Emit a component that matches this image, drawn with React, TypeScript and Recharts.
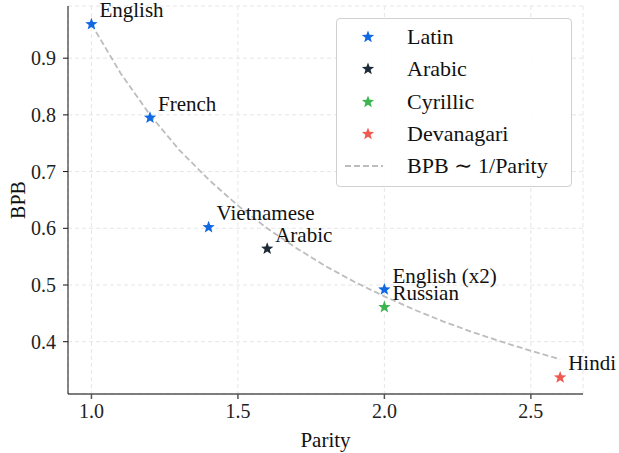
import React from 'react';
import { ScatterChart, Scatter, XAxis, YAxis, CartesianGrid } from 'recharts';

const latin = [
  { x: 1.0, y: 0.96, name: 'English' },
  { x: 1.2, y: 0.795, name: 'French' },
  { x: 1.4, y: 0.602, name: 'Vietnamese' },
  { x: 2.0, y: 0.492, name: 'English (x2)' },
];
const arabic = [{ x: 1.6, y: 0.564, name: 'Arabic' }];
const cyrillic = [{ x: 2.0, y: 0.461, name: 'Russian' }];
const devanagari = [{ x: 2.6, y: 0.337, name: 'Hindi' }];

const fitX = [1.0, 1.1, 1.2, 1.3, 1.4, 1.5, 1.6, 1.7, 1.8, 1.9, 2.0, 2.1, 2.2, 2.3, 2.4, 2.5, 2.6];
const fitY = [0.96, 0.873, 0.8, 0.738, 0.686, 0.64, 0.6, 0.565, 0.533, 0.505, 0.48, 0.457, 0.436, 0.417, 0.4, 0.384, 0.369];
const fit = fitX.map((x, i) => ({ x, y: fitY[i] }));

const xTicks = [1.0, 1.5, 2.0, 2.5];
const yTicks = [0.4, 0.5, 0.6, 0.7, 0.8, 0.9];

const groups = [
  { name: 'Latin', color: '#1168e3', data: latin },
  { name: 'Arabic', color: '#1d2b38', data: arabic },
  { name: 'Cyrillic', color: '#3db54e', data: cyrillic },
  { name: 'Devanagari', color: '#ef5a50', data: devanagari },
];

const FONT = '"Liberation Serif", "DejaVu Serif", serif';

const starPoints = (cx: number, cy: number, r: number) => {
  const pts: string[] = [];
  for (let i = 0; i < 10; i++) {
    const rr = i % 2 === 0 ? r : r * 0.42;
    const a = -Math.PI / 2 + (i * Math.PI) / 5;
    pts.push(`${cx + rr * Math.cos(a)},${cy + rr * Math.sin(a)}`);
  }
  return pts.join(' ');
};

const makeShape = (color: string) => (props: any) => {
  const { cx, cy, payload } = props;
  return (
    <g>
      <polygon points={starPoints(cx, cy, 6.5)} fill={color} />
      <text x={cx + 8} y={cy - 7} fontSize={21} fontFamily={FONT} fill="#111">
        {payload.name}
      </text>
    </g>
  );
};

const LegendBox = () => (
  <div
    style={{
      position: 'absolute',
      left: 336,
      top: 18,
      width: 236,
      height: 169,
      border: '1.5px solid #d0d0d0',
      borderRadius: 4,
      background: 'rgba(255,255,255,0.9)',
      fontFamily: FONT,
      fontSize: 22,
      color: '#111',
      boxSizing: 'border-box',
    }}
  >
    {groups.map((g, i) => (
      <div key={g.name} style={{ position: 'absolute', left: 0, top: 3 + i * 32.3, height: 30, display: 'flex', alignItems: 'center' }}>
        <svg width={70} height={20}>
          <polygon points={starPoints(31, 10, 6.5)} fill={g.color} />
        </svg>
        <span>{g.name}</span>
      </div>
    ))}
    <div style={{ position: 'absolute', left: 0, top: 3 + 4 * 32.3, height: 30, display: 'flex', alignItems: 'center' }}>
      <svg width={70} height={20}>
        <line x1={8} y1={10} x2={46} y2={10} stroke="#bdbdbd" strokeWidth={1.8} strokeDasharray="6 3" />
      </svg>
      <span style={{ fontSize: 22 }}>BPB ∼ 1/Parity</span>
    </div>
  </div>
);

export default function App() {
  return (
    <div style={{ position: 'absolute', left: 0, top: 0, width: 619, height: 453, background: '#fff', fontFamily: FONT }}>
      <ScatterChart width={619} height={453} margin={{ top: 6, right: 36, bottom: 0, left: 0 }} style={{ fontFamily: FONT }}>
        <CartesianGrid stroke="#e6e6e6" strokeDasharray="4 3" />
        <XAxis
          type="number"
          dataKey="x"
          domain={[0.92, 2.678]}
          ticks={xTicks}
          tickFormatter={(v) => Number(v).toFixed(1)}
          height={59}
          stroke="#555"
          strokeWidth={1.5}
          tick={{ fontSize: 20, fill: '#222', fontFamily: FONT, dy: 3 }}
          tickSize={5}
          label={{ value: 'Parity', position: 'insideBottom', offset: 6, fontSize: 21, fill: '#111', fontFamily: FONT }}
        />
        <YAxis
          type="number"
          dataKey="y"
          domain={[0.3078, 0.992]}
          ticks={yTicks}
          tickFormatter={(v) => Number(v).toFixed(1)}
          width={68}
          stroke="#111"
          tick={{ fontSize: 20, fill: '#222', fontFamily: FONT, dx: -5 }}
          tickSize={5}
          label={{ value: 'BPB', angle: -90, position: 'insideLeft', offset: 18, fontSize: 20, fill: '#111', fontFamily: FONT, style: { textAnchor: 'middle' } }}
        />
        <Scatter
          name="BPB ~ 1/Parity"
          data={fit}
          line={{ stroke: '#bdbdbd', strokeWidth: 1.8, strokeDasharray: '6 3' }}
          lineType="joint"
          shape={() => <g />}
          isAnimationActive={false}
        />
        {groups.map((g) => (
          <Scatter key={g.name} name={g.name} data={g.data} fill={g.color} shape={makeShape(g.color)} isAnimationActive={false} />
        ))}
      </ScatterChart>
      <LegendBox />
    </div>
  );
}
